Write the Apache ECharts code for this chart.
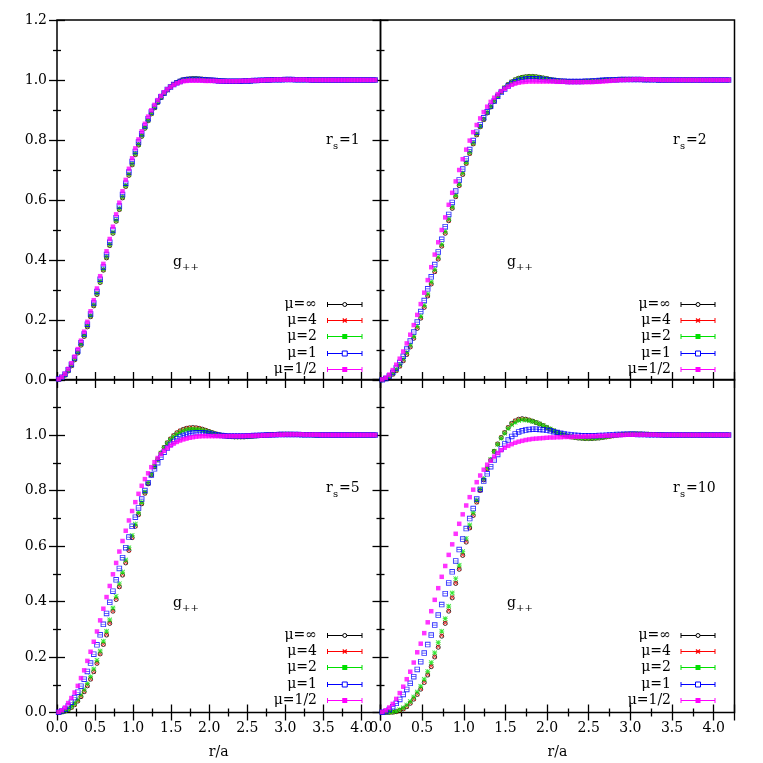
<!DOCTYPE html>
<html>
<head>
<meta charset="utf-8">
<script src="https://cdn.jsdelivr.net/npm/echarts@6/dist/echarts.min.js"></script>
<style>
  html, body { margin: 0; padding: 0; background: #fff; }
  #main { width: 763px; height: 763px; }
</style>
</head>
<body>
<div id="main"></div>
<script>
// r/a bin centres
const r = [0.021,0.063,0.105,0.147,0.189,0.231,0.273,0.315,0.357,0.399,
  0.441,0.483,0.525,0.567,0.609,0.651,0.693,0.735,0.777,0.819,
  0.861,0.903,0.945,0.987,1.029,1.071,1.113,1.155,1.197,1.239,
  1.281,1.323,1.365,1.407,1.449,1.491,1.533,1.575,1.617,1.659,
  1.701,1.743,1.785,1.827,1.869,1.911,1.953,1.995,2.037,2.079,
  2.121,2.163,2.205,2.247,2.289,2.331,2.373,2.415,2.457,2.499,
  2.541,2.583,2.625,2.667,2.709,2.751,2.793,2.835,2.877,2.919,
  2.961,3.003,3.045,3.087,3.129,3.171,3.213,3.255,3.297,3.339,
  3.381,3.423,3.465,3.507,3.549,3.591,3.633,3.675,3.717,3.759,
  3.801,3.843,3.885,3.927,3.969,4.011,4.053,4.095,4.137,4.179];

const xTicks = [0, 0.5, 1, 1.5, 2, 2.5, 3, 3.5, 4];
const yTicks = [0, 0.2, 0.4, 0.6, 0.8, 1.0, 1.2];
const muNames = ['μ=∞', 'μ=4', 'μ=2', 'μ=1', 'μ=1/2'];
const rsNames = ['1', '2', '5', '10'];

// ---- r_s = 1 ----
const rs1_inf = [0.002,0.007,0.016,0.030,0.047,0.067,0.090,0.116,0.145,0.177,
  0.211,0.247,0.285,0.325,0.366,0.407,0.448,0.489,0.529,0.568,
  0.607,0.645,0.682,0.717,0.751,0.783,0.812,0.839,0.864,0.887,
  0.907,0.925,0.941,0.955,0.967,0.977,0.985,0.992,0.997,1.001,
  1.003,1.004,1.005,1.005,1.004,1.003,1.002,1.001,1.000,0.999,
  0.998,0.997,0.997,0.996,0.996,0.996,0.996,0.996,0.997,0.997,
  0.997,0.998,0.998,0.999,0.999,1.000,1.000,1.001,1.001,1.001,
  1.002,1.002,1.002,1.002,1.001,1.001,1.001,1.001,1.001,1.000,
  1.000,1.000,1.000,1.000,1.000,1.000,1.000,1.000,1.000,1.000,
  1.000,1.000,1.000,1.000,1.000,1.000,1.000,1.000,1.000,1.000];
const rs1_4 = [0.002,0.007,0.016,0.030,0.047,0.068,0.091,0.117,0.146,0.178,
  0.212,0.248,0.286,0.326,0.367,0.408,0.449,0.490,0.530,0.569,
  0.608,0.646,0.683,0.718,0.752,0.784,0.813,0.840,0.865,0.887,
  0.907,0.925,0.941,0.955,0.967,0.977,0.985,0.992,0.997,1.001,
  1.003,1.004,1.005,1.004,1.004,1.003,1.002,1.001,1.000,0.999,
  0.998,0.997,0.997,0.996,0.996,0.996,0.996,0.996,0.997,0.997,
  0.997,0.998,0.998,0.999,0.999,1.000,1.000,1.001,1.001,1.001,
  1.002,1.002,1.002,1.002,1.001,1.001,1.001,1.001,1.001,1.000,
  1.000,1.000,1.000,1.000,1.000,1.000,1.000,1.000,1.000,1.000,
  1.000,1.000,1.000,1.000,1.000,1.000,1.000,1.000,1.000,1.000];
const rs1_2 = [0.002,0.008,0.017,0.032,0.049,0.070,0.093,0.119,0.148,0.180,
  0.214,0.250,0.288,0.328,0.369,0.410,0.451,0.492,0.532,0.571,
  0.610,0.648,0.685,0.720,0.754,0.785,0.814,0.841,0.866,0.888,
  0.908,0.926,0.942,0.956,0.967,0.977,0.985,0.991,0.996,1.000,
  1.002,1.003,1.004,1.004,1.003,1.002,1.001,1.000,0.999,0.999,
  0.998,0.997,0.997,0.996,0.996,0.996,0.996,0.996,0.997,0.997,
  0.997,0.998,0.998,0.999,0.999,1.000,1.000,1.001,1.001,1.001,
  1.002,1.002,1.002,1.002,1.001,1.001,1.001,1.001,1.001,1.000,
  1.000,1.000,1.000,1.000,1.000,1.000,1.000,1.000,1.000,1.000,
  1.000,1.000,1.000,1.000,1.000,1.000,1.000,1.000,1.000,1.000];
const rs1_1 = [0.003,0.009,0.019,0.034,0.052,0.073,0.097,0.124,0.153,0.186,
  0.220,0.257,0.295,0.336,0.377,0.418,0.459,0.500,0.541,0.580,
  0.618,0.656,0.693,0.728,0.762,0.793,0.821,0.847,0.871,0.893,
  0.912,0.929,0.944,0.957,0.968,0.977,0.985,0.991,0.995,0.999,
  1.001,1.002,1.002,1.002,1.002,1.001,1.000,0.999,0.999,0.998,
  0.997,0.997,0.996,0.996,0.996,0.996,0.996,0.996,0.997,0.997,
  0.997,0.998,0.998,0.999,0.999,1.000,1.000,1.001,1.001,1.001,
  1.001,1.002,1.002,1.002,1.001,1.001,1.001,1.001,1.001,1.000,
  1.000,1.000,1.000,1.000,1.000,1.000,1.000,1.000,1.000,1.000,
  1.000,1.000,1.000,1.000,1.000,1.000,1.000,1.000,1.000,1.000];
const rs1_half = [0.003,0.010,0.021,0.037,0.056,0.078,0.103,0.131,0.161,0.194,
  0.229,0.266,0.305,0.346,0.387,0.429,0.470,0.511,0.552,0.591,
  0.629,0.667,0.704,0.739,0.772,0.802,0.829,0.854,0.878,0.899,
  0.917,0.933,0.947,0.959,0.969,0.977,0.984,0.989,0.993,0.996,
  0.997,0.998,0.998,0.998,0.998,0.998,0.997,0.997,0.997,0.997,
  0.996,0.996,0.996,0.996,0.996,0.996,0.996,0.997,0.997,0.997,
  0.998,0.998,0.998,0.999,0.999,1.000,1.000,1.000,1.001,1.001,
  1.001,1.001,1.001,1.001,1.001,1.001,1.001,1.001,1.000,1.000,
  1.000,1.000,1.000,1.000,1.000,1.000,1.000,1.000,1.000,1.000,
  1.000,1.000,1.000,1.000,1.000,1.000,1.000,1.000,1.000,1.000];

// ---- r_s = 2 ----
const rs2_inf = [0.001,0.004,0.010,0.019,0.031,0.046,0.064,0.085,0.110,0.139,
  0.172,0.206,0.242,0.280,0.320,0.361,0.403,0.446,0.489,0.531,
  0.572,0.611,0.648,0.685,0.722,0.755,0.787,0.817,0.844,0.868,
  0.890,0.910,0.929,0.946,0.961,0.974,0.985,0.994,1.001,1.006,
  1.009,1.011,1.012,1.012,1.011,1.009,1.007,1.005,1.002,1.000,
  0.998,0.997,0.996,0.995,0.995,0.995,0.995,0.995,0.996,0.996,
  0.997,0.997,0.998,0.999,1.000,1.000,1.001,1.001,1.002,1.002,
  1.002,1.002,1.002,1.002,1.002,1.001,1.001,1.001,1.001,1.000,
  1.000,1.000,1.000,1.000,1.000,1.000,1.000,1.000,1.000,1.000,
  1.000,1.000,1.000,1.000,1.000,1.000,1.000,1.000,1.000,1.000];
const rs2_4 = [0.001,0.004,0.010,0.019,0.031,0.046,0.065,0.086,0.111,0.140,
  0.173,0.207,0.243,0.281,0.321,0.362,0.404,0.447,0.490,0.532,
  0.573,0.612,0.649,0.686,0.722,0.755,0.787,0.817,0.844,0.868,
  0.890,0.910,0.929,0.946,0.961,0.974,0.985,0.994,1.001,1.006,
  1.009,1.011,1.012,1.012,1.011,1.009,1.007,1.005,1.002,1.000,
  0.998,0.997,0.996,0.995,0.995,0.995,0.995,0.995,0.996,0.996,
  0.997,0.997,0.998,0.999,1.000,1.000,1.001,1.001,1.002,1.002,
  1.002,1.002,1.002,1.002,1.002,1.001,1.001,1.001,1.001,1.000,
  1.000,1.000,1.000,1.000,1.000,1.000,1.000,1.000,1.000,1.000,
  1.000,1.000,1.000,1.000,1.000,1.000,1.000,1.000,1.000,1.000];
const rs2_2 = [0.001,0.005,0.012,0.022,0.035,0.051,0.070,0.092,0.117,0.146,
  0.179,0.213,0.249,0.287,0.327,0.368,0.410,0.452,0.495,0.537,
  0.577,0.616,0.653,0.690,0.726,0.759,0.790,0.820,0.846,0.870,
  0.892,0.911,0.930,0.946,0.961,0.974,0.984,0.993,1.000,1.005,
  1.008,1.010,1.011,1.011,1.010,1.008,1.006,1.004,1.002,1.000,
  0.998,0.997,0.996,0.995,0.995,0.995,0.995,0.995,0.996,0.996,
  0.997,0.997,0.998,0.999,1.000,1.000,1.001,1.001,1.002,1.002,
  1.002,1.002,1.002,1.002,1.002,1.001,1.001,1.001,1.001,1.000,
  1.000,1.000,1.000,1.000,1.000,1.000,1.000,1.000,1.000,1.000,
  1.000,1.000,1.000,1.000,1.000,1.000,1.000,1.000,1.000,1.000];
const rs2_1 = [0.001,0.005,0.013,0.025,0.040,0.058,0.079,0.103,0.130,0.160,
  0.193,0.228,0.265,0.304,0.344,0.385,0.427,0.469,0.511,0.552,
  0.592,0.630,0.667,0.703,0.737,0.768,0.798,0.826,0.851,0.874,
  0.894,0.913,0.930,0.946,0.959,0.970,0.980,0.988,0.994,0.998,
  1.001,1.003,1.004,1.004,1.004,1.003,1.002,1.001,0.999,0.998,
  0.997,0.996,0.996,0.995,0.995,0.995,0.995,0.995,0.996,0.996,
  0.997,0.997,0.998,0.999,1.000,1.000,1.001,1.001,1.002,1.002,
  1.002,1.002,1.002,1.002,1.002,1.001,1.001,1.001,1.001,1.000,
  1.000,1.000,1.000,1.000,1.000,1.000,1.000,1.000,1.000,1.000,
  1.000,1.000,1.000,1.000,1.000,1.000,1.000,1.000,1.000,1.000];
const rs2_half = [0.002,0.008,0.018,0.033,0.051,0.071,0.095,0.122,0.151,0.183,
  0.217,0.253,0.291,0.333,0.376,0.418,0.459,0.500,0.542,0.584,
  0.624,0.662,0.700,0.736,0.768,0.798,0.826,0.850,0.872,0.893,
  0.911,0.927,0.941,0.953,0.963,0.971,0.978,0.984,0.988,0.991,
  0.993,0.994,0.995,0.995,0.995,0.995,0.995,0.995,0.995,0.995,
  0.994,0.994,0.994,0.993,0.993,0.993,0.993,0.993,0.993,0.993,
  0.993,0.994,0.994,0.995,0.996,0.997,0.998,0.999,1.000,1.000,
  1.001,1.001,1.002,1.002,1.002,1.002,1.002,1.001,1.001,1.001,
  1.000,1.000,1.000,1.000,1.000,1.000,1.000,1.000,1.000,1.000,
  1.000,1.000,1.000,1.000,1.000,1.000,1.000,1.000,1.000,1.000];

// ---- r_s = 5 ----
const rs5_inf = [0.000,0.002,0.005,0.010,0.018,0.028,0.041,0.057,0.075,0.096,
  0.120,0.147,0.177,0.211,0.245,0.279,0.321,0.365,0.407,0.453,
  0.495,0.539,0.584,0.630,0.671,0.713,0.752,0.790,0.824,0.856,
  0.886,0.912,0.935,0.955,0.972,0.986,0.998,1.008,1.015,1.020,
  1.024,1.026,1.027,1.026,1.024,1.021,1.017,1.013,1.009,1.005,
  1.002,0.999,0.997,0.995,0.994,0.993,0.993,0.993,0.993,0.994,
  0.995,0.996,0.997,0.998,0.999,1.000,1.001,1.002,1.002,1.003,
  1.003,1.003,1.003,1.003,1.002,1.002,1.002,1.001,1.001,1.001,
  1.000,1.000,1.000,1.000,1.000,1.000,1.000,1.000,1.000,1.000,
  1.000,1.000,1.000,1.000,1.000,1.000,1.000,1.000,1.000,1.000];
const rs5_4 = [0.000,0.002,0.005,0.011,0.018,0.029,0.042,0.058,0.076,0.097,
  0.121,0.148,0.178,0.212,0.246,0.281,0.323,0.366,0.409,0.454,
  0.497,0.541,0.585,0.631,0.672,0.714,0.753,0.790,0.824,0.856,
  0.886,0.912,0.935,0.955,0.972,0.986,0.998,1.008,1.015,1.020,
  1.024,1.026,1.026,1.026,1.024,1.021,1.017,1.013,1.009,1.005,
  1.002,0.999,0.997,0.995,0.994,0.993,0.993,0.993,0.993,0.994,
  0.995,0.996,0.997,0.998,0.999,1.000,1.001,1.002,1.002,1.003,
  1.003,1.003,1.003,1.003,1.002,1.002,1.002,1.001,1.001,1.001,
  1.000,1.000,1.000,1.000,1.000,1.000,1.000,1.000,1.000,1.000,
  1.000,1.000,1.000,1.000,1.000,1.000,1.000,1.000,1.000,1.000];
const rs5_2 = [0.000,0.002,0.006,0.012,0.021,0.032,0.046,0.063,0.082,0.104,
  0.129,0.157,0.188,0.222,0.257,0.293,0.334,0.377,0.419,0.464,
  0.506,0.550,0.594,0.638,0.679,0.720,0.758,0.795,0.828,0.859,
  0.888,0.913,0.935,0.954,0.970,0.983,0.994,1.003,1.010,1.015,
  1.019,1.021,1.022,1.021,1.020,1.017,1.014,1.011,1.007,1.004,
  1.001,0.999,0.997,0.996,0.995,0.994,0.994,0.994,0.994,0.995,
  0.995,0.996,0.997,0.998,0.999,1.000,1.001,1.001,1.002,1.002,
  1.002,1.003,1.003,1.002,1.002,1.002,1.002,1.001,1.001,1.001,
  1.000,1.000,1.000,1.000,1.000,1.000,1.000,1.000,1.000,1.000,
  1.000,1.000,1.000,1.000,1.000,1.000,1.000,1.000,1.000,1.000];
const rs5_1 = [0.001,0.005,0.012,0.023,0.037,0.054,0.073,0.095,0.120,0.148,
  0.178,0.210,0.244,0.280,0.318,0.357,0.397,0.437,0.478,0.519,
  0.558,0.594,0.632,0.671,0.704,0.737,0.769,0.800,0.828,0.856,
  0.878,0.900,0.920,0.938,0.953,0.966,0.977,0.986,0.993,0.998,
  1.002,1.005,1.007,1.008,1.008,1.008,1.007,1.005,1.003,1.001,
  0.999,0.998,0.997,0.996,0.996,0.996,0.996,0.996,0.996,0.997,
  0.997,0.998,0.998,0.999,0.999,1.000,1.000,1.001,1.001,1.002,
  1.002,1.002,1.002,1.002,1.002,1.002,1.001,1.001,1.001,1.001,
  1.001,1.000,1.000,1.000,1.000,1.000,1.000,1.000,1.000,1.000,
  1.000,1.000,1.000,1.000,1.000,1.000,1.000,1.000,1.000,1.000];
const rs5_half = [0.002,0.008,0.018,0.034,0.052,0.072,0.096,0.124,0.152,0.186,
  0.219,0.255,0.292,0.332,0.374,0.416,0.456,0.498,0.539,0.580,
  0.618,0.655,0.692,0.726,0.758,0.788,0.817,0.841,0.862,0.884,
  0.902,0.917,0.931,0.943,0.953,0.962,0.969,0.975,0.980,0.984,
  0.987,0.990,0.992,0.994,0.995,0.996,0.996,0.996,0.996,0.996,
  0.996,0.996,0.996,0.996,0.996,0.996,0.996,0.996,0.996,0.997,
  0.997,0.997,0.998,0.998,0.999,0.999,1.000,1.000,1.001,1.001,
  1.001,1.002,1.002,1.002,1.002,1.002,1.002,1.001,1.001,1.001,
  1.001,1.001,1.000,1.000,1.000,1.000,1.000,1.000,1.000,1.000,
  1.000,1.000,1.000,1.000,1.000,1.000,1.000,1.000,1.000,1.000];

// ---- r_s = 10 ----
const rs10_inf = [0.000,0.000,0.000,0.001,0.003,0.007,0.013,0.021,0.033,0.048,
  0.065,0.084,0.108,0.135,0.165,0.200,0.235,0.275,0.321,0.365,
  0.413,0.465,0.516,0.566,0.614,0.665,0.710,0.758,0.800,0.838,
  0.878,0.910,0.941,0.968,0.991,1.009,1.027,1.042,1.051,1.057,
  1.059,1.057,1.054,1.050,1.045,1.040,1.034,1.027,1.021,1.015,
  1.009,1.004,1.000,0.996,0.993,0.991,0.989,0.988,0.987,0.987,
  0.987,0.988,0.989,0.991,0.993,0.995,0.997,0.999,1.001,1.002,
  1.003,1.004,1.004,1.004,1.004,1.003,1.003,1.002,1.002,1.001,
  1.001,1.000,1.000,1.000,1.000,1.000,1.000,1.000,1.000,1.000,
  1.000,1.000,1.000,1.000,1.000,1.000,1.000,1.000,1.000,1.000];
const rs10_4 = [0.000,0.000,0.000,0.001,0.003,0.007,0.013,0.022,0.034,0.049,
  0.066,0.086,0.110,0.137,0.167,0.202,0.238,0.278,0.323,0.368,
  0.415,0.467,0.518,0.568,0.616,0.666,0.711,0.758,0.800,0.838,
  0.878,0.910,0.941,0.968,0.991,1.009,1.027,1.041,1.051,1.057,
  1.058,1.057,1.054,1.050,1.045,1.040,1.034,1.027,1.021,1.015,
  1.009,1.004,1.000,0.996,0.993,0.991,0.989,0.988,0.987,0.987,
  0.987,0.988,0.989,0.991,0.993,0.995,0.997,0.999,1.001,1.002,
  1.003,1.004,1.004,1.004,1.004,1.003,1.003,1.002,1.002,1.001,
  1.001,1.000,1.000,1.000,1.000,1.000,1.000,1.000,1.000,1.000,
  1.000,1.000,1.000,1.000,1.000,1.000,1.000,1.000,1.000,1.000];
const rs10_2 = [0.000,0.000,0.001,0.002,0.005,0.010,0.017,0.027,0.040,0.056,
  0.074,0.095,0.120,0.148,0.180,0.215,0.252,0.293,0.338,0.383,
  0.431,0.482,0.531,0.580,0.627,0.676,0.720,0.765,0.806,0.843,
  0.881,0.912,0.941,0.966,0.988,1.006,1.023,1.037,1.046,1.052,
  1.055,1.054,1.052,1.049,1.045,1.040,1.034,1.028,1.022,1.016,
  1.010,1.005,1.001,0.997,0.994,0.992,0.990,0.989,0.988,0.988,
  0.988,0.989,0.990,0.992,0.994,0.996,0.998,1.000,1.001,1.002,
  1.003,1.003,1.004,1.004,1.003,1.003,1.003,1.002,1.002,1.001,
  1.001,1.000,1.000,1.000,1.000,1.000,1.000,1.000,1.000,1.000,
  1.000,1.000,1.000,1.000,1.000,1.000,1.000,1.000,1.000,1.000];
const rs10_1 = [0.001,0.004,0.011,0.021,0.033,0.047,0.065,0.083,0.105,0.129,
  0.155,0.183,0.214,0.245,0.279,0.315,0.351,0.389,0.428,0.467,
  0.507,0.546,0.587,0.625,0.663,0.699,0.735,0.769,0.804,0.834,
  0.860,0.886,0.910,0.930,0.950,0.968,0.982,0.995,1.004,1.011,
  1.015,1.018,1.020,1.021,1.021,1.020,1.019,1.017,1.015,1.012,
  1.009,1.006,1.004,1.002,1.000,0.999,0.998,0.997,0.997,0.997,
  0.997,0.997,0.998,0.998,0.999,1.000,1.001,1.002,1.002,1.003,
  1.003,1.003,1.003,1.002,1.002,1.002,1.001,1.001,1.001,1.001,
  1.000,1.000,1.000,1.000,1.000,1.000,1.000,1.000,1.000,1.000,
  1.000,1.000,1.000,1.000,1.000,1.000,1.000,1.000,1.000,1.000];
const rs10_half = [0.002,0.008,0.018,0.031,0.049,0.070,0.093,0.120,0.147,0.180,
  0.217,0.248,0.286,0.325,0.365,0.406,0.448,0.489,0.528,0.568,
  0.606,0.644,0.680,0.714,0.746,0.776,0.803,0.830,0.854,0.875,
  0.893,0.907,0.922,0.935,0.945,0.954,0.961,0.967,0.972,0.976,
  0.979,0.982,0.984,0.986,0.987,0.988,0.989,0.990,0.991,0.991,
  0.992,0.992,0.993,0.993,0.993,0.994,0.994,0.994,0.995,0.995,
  0.996,0.996,0.997,0.997,0.998,0.998,0.999,0.999,1.000,1.000,
  1.001,1.001,1.001,1.001,1.001,1.001,1.001,1.001,1.001,1.000,
  1.000,1.000,1.000,1.000,1.000,1.000,1.000,1.000,1.000,1.000,
  1.000,1.000,1.000,1.000,1.000,1.000,1.000,1.000,1.000,1.000];

const panelData = [
  [rs1_inf, rs1_4, rs1_2, rs1_1, rs1_half],
  [rs2_inf, rs2_4, rs2_2, rs2_1, rs2_half],
  [rs5_inf, rs5_4, rs5_2, rs5_1, rs5_half],
  [rs10_inf, rs10_4, rs10_2, rs10_1, rs10_half]
];

const FONT = 'DejaVu Serif';
const FS = 14;
const colors = ['#000000', '#ff0000', '#00e000', '#0000ff', '#ff00ff'];
const xPath = 'path://M0,1.2L1.2,0L5,3.8L8.8,0L10,1.2L6.2,5L10,8.8L8.8,10L5,6.2L1.2,10L0,8.8L3.8,5Z';
const starPath = 'path://M0,1.2L1.2,0L5,3.8L8.8,0L10,1.2L6.2,5L10,8.8L8.8,10L5,6.2L1.2,10L0,8.8L3.8,5Z M4.3,0H5.7V10H4.3Z M0,4.3H10V5.7H0Z';
const boxPath = 'path://M0,0H10V10H0Z M1.6,1.6V8.4H8.4V1.6Z M1.6,4.4H8.4V5.6H1.6Z';
const markers = [
  { symbol: 'circle', size: 4, itemStyle: { color: 'rgba(0,0,0,0)', borderColor: '#000', borderWidth: 1 } },
  { symbol: xPath, size: 4.5, itemStyle: { color: '#ff0000' } },
  { symbol: starPath, size: 5, itemStyle: { color: '#00e000' } },
  { symbol: boxPath, size: 5.5, itemStyle: { color: '#0000ff' } },
  { symbol: 'rect', size: 4.5, itemStyle: { color: '#ff00ff' } }
];

// panel layout
const grids = [
  { left: 57, top: 20, width: 323.5, height: 360 },
  { left: 380.5, top: 20, width: 354, height: 360 },
  { left: 57, top: 379.5, width: 323.5, height: 333 },
  { left: 380.5, top: 379.5, width: 354, height: 333 }
];

const tickStyle = { color: '#000', width: 1.3 };
const fmtX = v => xTicks.some(t => Math.abs(t - v) < 1e-6) ? v.toFixed(1) : '';

let xAxis = [], yAxis = [];
grids.forEach((g, k) => {
  const bottomRow = k >= 2, leftCol = k % 2 === 0;
  const base = {
    type: 'value', gridIndex: k, min: 0, interval: 0.5,
    axisLine: { show: false }, splitLine: { show: false },
    axisTick: { show: true, inside: true, length: 8, lineStyle: tickStyle },
    minorTick: { show: true, splitNumber: 2, length: 4, lineStyle: tickStyle }
  };
  xAxis.push(Object.assign({}, base, {
    max: 4.25, position: 'bottom',
    axisLabel: { show: bottomRow, margin: 9, color: '#000', fontFamily: FONT, fontSize: FS, formatter: fmtX },
    name: bottomRow ? 'r/a' : '', nameLocation: 'middle', nameGap: 33,
    nameTextStyle: { color: '#000', fontFamily: FONT, fontSize: FS }
  }));
  xAxis.push(Object.assign({}, base, { max: 4.25, position: 'top', axisLabel: { show: false } }));
  yAxis.push(Object.assign({}, base, {
    max: 1.2, interval: 0.2, position: 'left',
    axisLabel: {
      show: leftCol, margin: 10, color: '#000', fontFamily: FONT, fontSize: FS,
      formatter: v => (bottomRow && v > 1.15) ? '' : (yTicks.some(t => Math.abs(t - v) < 1e-6) ? v.toFixed(1) : '')
    }
  }));
  yAxis.push(Object.assign({}, base, { max: 1.2, interval: 0.2, position: 'right', axisLabel: { show: false } }));
});

let series = [];
panelData.forEach((sets, k) => {
  sets.forEach((vals, j) => {
    series.push({
      type: 'scatter', name: muNames[j],
      xAxisIndex: 2 * k, yAxisIndex: 2 * k,
      symbol: markers[j].symbol, symbolSize: markers[j].size,
      itemStyle: markers[j].itemStyle,
      silent: true,
      data: r.map((x, i) => [x, vals[i]])
    });
  });
});

// text annotations and per-panel key
let graphic = [];
function txt(x, y, s, size, align) {
  return { type: 'text', x: x, y: y, silent: true,
    style: { text: s, fill: '#000', font: size + 'px "' + FONT + '"', fontFamily: FONT, fontSize: size,
      align: align || 'left', verticalAlign: 'middle', textAlign: align || 'left', textVerticalAlign: 'middle' } };
}
const annot = [
  { rx: 326, ry: 140, gx: 173, gy: 262 },
  { rx: 673, ry: 140, gx: 507, gy: 262 },
  { rx: 326, ry: 488, gx: 173, gy: 603 },
  { rx: 673, ry: 488, gx: 507, gy: 603 }
];
const keyPos = [
  { tx: 317, x1: 327.5, x2: 362, y0: 303.5 },
  { tx: 671, x1: 681, x2: 715, y0: 303.5 },
  { tx: 317, x1: 327.5, x2: 362, y0: 634.5 },
  { tx: 671, x1: 681, x2: 715, y0: 634.5 }
];
annot.forEach((a, k) => {
  graphic.push(txt(a.rx, a.ry, 'r', FS));
  graphic.push(txt(a.rx + 7, a.ry + 6, 's', 10));
  graphic.push(txt(a.rx + 13, a.ry, '=' + rsNames[k], FS));
  graphic.push(txt(a.gx, a.gy, 'g', FS));
  graphic.push(txt(a.gx + 9, a.gy + 5, '++', 10));
  const kp = keyPos[k];
  muNames.forEach((nm, j) => {
    const y = Math.round(kp.y0 + 16.4 * j) + 0.5;
    const c = colors[j], mx = (kp.x1 + kp.x2) / 2;
    graphic.push(txt(kp.tx, y, nm, FS, 'right'));
    graphic.push({ type: 'line', silent: true, shape: { x1: kp.x1, y1: y, x2: kp.x2, y2: y }, style: { stroke: c, lineWidth: 1 } });
    graphic.push({ type: 'line', silent: true, shape: { x1: kp.x1, y1: y - 2.5, x2: kp.x1, y2: y + 2.5 }, style: { stroke: c, lineWidth: 1 } });
    graphic.push({ type: 'line', silent: true, shape: { x1: kp.x2, y1: y - 2.5, x2: kp.x2, y2: y + 2.5 }, style: { stroke: c, lineWidth: 1 } });
    if (j === 0) {
      graphic.push({ type: 'circle', silent: true, shape: { cx: mx, cy: y, r: 2 }, style: { fill: '#fff', stroke: c, lineWidth: 1 } });
    } else if (j === 1) {
      graphic.push({ type: 'line', silent: true, shape: { x1: mx - 2, y1: y - 2, x2: mx + 2, y2: y + 2 }, style: { stroke: c, lineWidth: 1.2 } });
      graphic.push({ type: 'line', silent: true, shape: { x1: mx - 2, y1: y + 2, x2: mx + 2, y2: y - 2 }, style: { stroke: c, lineWidth: 1.2 } });
    } else if (j === 2) {
      graphic.push({ type: 'rect', silent: true, shape: { x: mx - 2.5, y: y - 2.5, width: 5, height: 5 }, style: { fill: c } });
    } else if (j === 3) {
      graphic.push({ type: 'rect', silent: true, shape: { x: mx - 2.5, y: y - 2.5, width: 5, height: 5 }, style: { fill: '#fff', stroke: c, lineWidth: 1 } });
    } else {
      graphic.push({ type: 'rect', silent: true, shape: { x: mx - 2.5, y: y - 2.5, width: 5, height: 5 }, style: { fill: c } });
    }
  });
});

const chart = echarts.init(document.getElementById('main'));
chart.setOption({
  animation: false,
  backgroundColor: '#fff',
  grid: grids.map(g => Object.assign({ show: true, borderColor: '#000', borderWidth: 1.5, backgroundColor: 'transparent', containLabel: false }, g)),
  xAxis: xAxis,
  yAxis: yAxis,
  series: series,
  graphic: graphic
});
</script>
</body>
</html>
